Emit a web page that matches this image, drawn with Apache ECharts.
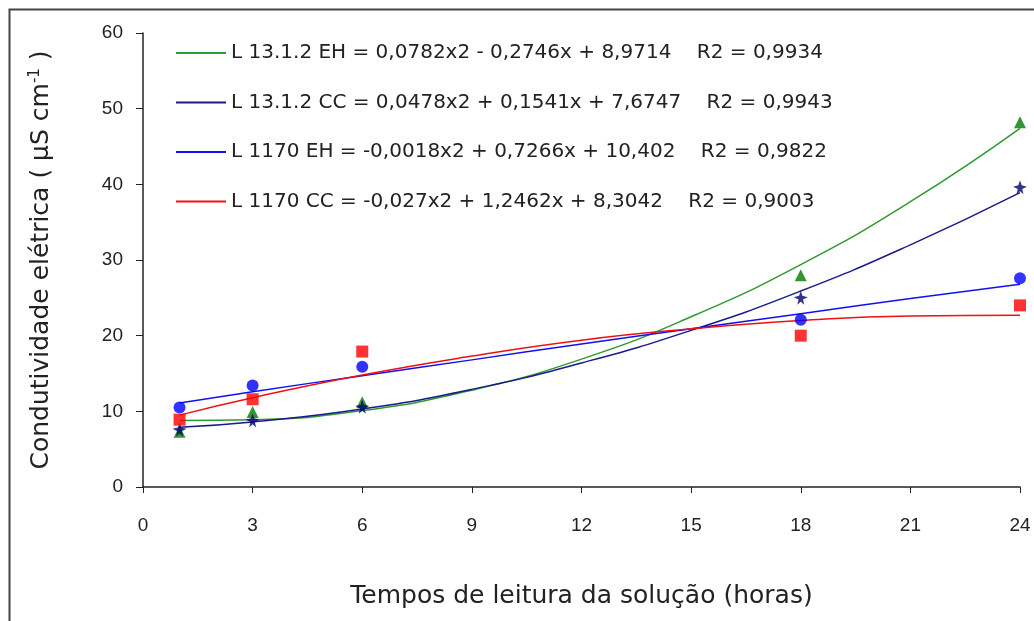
<!DOCTYPE html>
<html>
<head>
<meta charset="utf-8">
<script src="https://cdn.jsdelivr.net/npm/echarts@6/dist/echarts.min.js"></script>
<style>html,body{margin:0;padding:0;background:#fff}#c{width:1034px;height:621px}</style>
</head>
<body>
<div id="c"></div>
<script>
// Observation times (hours)
var times = [1, 3, 6, 18, 24];
// Observed values (µS cm-1)
var eh1312 = [7.3, 9.9, 11.2, 28.0, 48.2];
var cc1312 = [7.6, 8.8, 10.6, 25.0, 39.6];
var eh1170 = [10.5, 13.4, 15.9, 22.1, 27.6];
var cc1170 = [8.9, 11.6, 17.9, 20.0, 24.0];
// Trend lines at these hours
var trendX = [1, 3, 6, 9, 12, 15, 18, 21, 24];
var trendEh1312 = [8.8, 8.9, 10.1, 12.8, 16.9, 22.5, 29.4, 37.7, 47.4];
var trendCc1312 = [7.9, 8.6, 10.3, 12.9, 16.4, 20.7, 25.9, 32.0, 38.9];
var trendEh1170 = [11.1, 12.6, 14.7, 16.8, 18.9, 20.9, 22.9, 24.9, 26.8];
var trendCc1170 = [9.5, 11.8, 14.8, 17.3, 19.4, 20.9, 22.0, 22.6, 22.7];
// Legend labels
var names = [
  'L 13.1.2 EH = 0,0782x2 - 0,2746x + 8,9714    R2 = 0,9934',
  'L 13.1.2 CC = 0,0478x2 + 0,1541x + 7,6747    R2 = 0,9943',
  'L 1170 EH = -0,0018x2 + 0,7266x + 10,402    R2 = 0,9822',
  'L 1170 CC = -0,027x2 + 1,2462x + 8,3042    R2 = 0,9003'
];
var xTicks = [0, 3, 6, 9, 12, 15, 18, 21, 24];
var yTicks = [0, 10, 20, 30, 40, 50, 60];

function pairs(xs, ys) { return xs.map(function (x, i) { return [x, ys[i]]; }); }

var font = 'Liberation Sans, Arial, sans-serif';
var wide = 'DejaVu Sans, sans-serif';
var lineColors = ['#2f9a2f', '#1a1a8c', '#1010f0', '#f01010'];
var markColors = ['#007a00', '#00006e', '#0000ff', '#ff0000'];
var symbols = ['triangle', 'path://M50,0 L62,35 L100,45 L66,62 L75,100 L50,78 L25,100 L34,62 L0,45 L38,35 Z', 'circle', 'rect'];
var obs = [eh1312, cc1312, eh1170, cc1170];
var trends = [trendEh1312, trendCc1312, trendEh1170, trendCc1170];

var series = [];
for (var i = 0; i < 4; i++) {
  series.push({
    name: names[i], type: 'line', smooth: 0.5, symbol: 'none',
    data: pairs(trendX, trends[i]),
    lineStyle: { color: lineColors[i], width: 1.5 },
    itemStyle: { color: lineColors[i] },
    z: 2
  });
}
for (var j = 0; j < 4; j++) {
  series.push({
    name: 'obs' + j, type: 'scatter', symbol: symbols[j],
    symbolSize: j === 1 ? 14 : 12,
    data: pairs(times, obs[j]),
    itemStyle: { color: markColors[j] },
    z: 3
  });
}

var chart = echarts.init(document.getElementById('c'), null, { renderer: 'canvas' });
chart.setOption({
  animation: false,
  backgroundColor: '#fff',
  graphic: [{
    type: 'rect', left: 7, top: 7, shape: { width: 1200, height: 800 },
    style: { fill: 'none', stroke: '#444', lineWidth: 2 }, silent: true
  }],
  grid: { left: 143, right: 14, top: 33, bottom: 134, containLabel: false },
  legend: {
    data: names, orient: 'vertical', left: 176, top: 43, padding: 0,
    itemWidth: 50, itemHeight: 2, itemGap: 29.5,
    icon: 'rect',
    textStyle: { fontFamily: wide, fontSize: 20, color: '#222', padding: 0 },
    selectedMode: false
  },
  xAxis: {
    type: 'value', min: 0, max: 24, interval: 3,
    name: 'Tempos de leitura da solução (horas)', nameLocation: 'middle', nameGap: 97,
    nameTextStyle: { fontFamily: wide, fontSize: 25, color: '#222' },
    axisLine: { lineStyle: { color: '#222', width: 1.5 } },
    axisTick: { show: true, length: 6, inside: false, lineStyle: { color: '#222' } },
    axisLabel: { fontFamily: font, fontSize: 19, color: '#222', margin: 29,
      formatter: function (v) { return xTicks.indexOf(v) >= 0 ? String(v) : ''; } },
    splitLine: { show: false }
  },
  yAxis: {
    type: 'value', min: 0, max: 60, interval: 10,
    name: '{a|Condutividade elétrica ( µS cm}{s|-1}{a| )}', nameLocation: 'middle', nameGap: 88, nameRotate: 90,
    nameTextStyle: { fontFamily: wide, fontSize: 25, color: '#222',
      rich: { a: { fontFamily: wide, fontSize: 25, color: '#222' },
              s: { fontFamily: wide, fontSize: 15, color: '#222', verticalAlign: 'top', padding: [0, 0, 12, 0] } } },
    axisLine: { show: true, lineStyle: { color: '#222', width: 1.5 } },
    axisTick: { show: true, length: 7, inside: false, lineStyle: { color: '#222' } },
    axisLabel: { fontFamily: font, fontSize: 19, color: '#222', margin: 20,
      formatter: function (v) { return yTicks.indexOf(v) >= 0 ? String(v) : ''; } },
    splitLine: { show: false }
  },
  series: series
});
</script>
</body>
</html>
